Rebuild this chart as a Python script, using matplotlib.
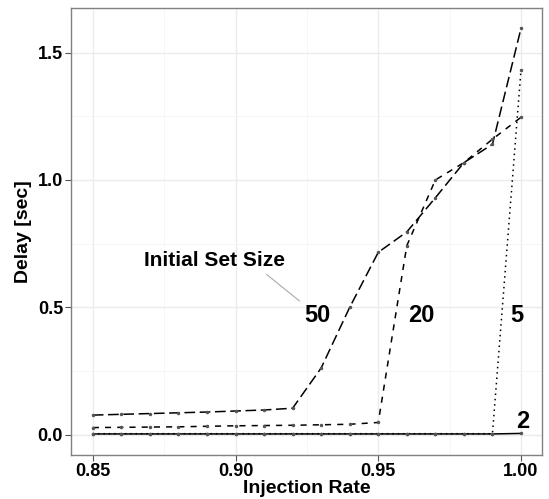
import matplotlib
matplotlib.use("Agg")
import matplotlib.pyplot as plt
from matplotlib.ticker import MultipleLocator

plt.rcParams['font.family'] = ['Liberation Sans', 'DejaVu Sans']
plt.rcParams['font.weight'] = 'bold'
plt.rcParams['axes.labelweight'] = 'bold'

# injection rate 0.85 .. 1.00
rate = [0.85, 0.86, 0.87, 0.88, 0.89, 0.90, 0.91, 0.92,
        0.93, 0.94, 0.95, 0.96, 0.97, 0.98, 0.99, 1.00]

# delay [sec] per initial set size
delay_50 = [0.077, 0.080, 0.083, 0.086, 0.089, 0.093, 0.097, 0.104,
            0.262, 0.500, 0.716, 0.796, 0.930, 1.068, 1.140, 1.595]
delay_20 = [0.028, 0.029, 0.030, 0.031, 0.033, 0.035, 0.036, 0.037,
            0.039, 0.041, 0.048, 0.742, 1.000, 1.068, 1.160, 1.246]
delay_5 = [0.004, 0.004, 0.004, 0.004, 0.004, 0.004, 0.004, 0.004,
           0.004, 0.004, 0.004, 0.004, 0.004, 0.004, 0.004, 1.432]
delay_2 = [0.003, 0.003, 0.003, 0.003, 0.003, 0.003, 0.003, 0.003,
           0.003, 0.003, 0.003, 0.003, 0.003, 0.003, 0.003, 0.005]

fig = plt.figure(figsize=(5.49, 4.99), dpi=100)
ax = fig.add_axes([0.130, 0.088, 0.858, 0.896])

lw = 1.1
ax.plot(rate, delay_50, color='black', lw=lw, dashes=(7, 3))
ax.plot(rate, delay_20, color='black', lw=lw, dashes=(4, 4))
ax.plot(rate, delay_5, color='black', lw=lw, dashes=(1, 2.5))
ax.plot(rate, delay_2, color='black', lw=lw)
for s in (delay_50, delay_20, delay_5, delay_2):
    ax.plot(rate, s, ls='none', marker='o', ms=1.5, color='#555555')

# line labels
ax.text(0.9286, 0.469, '50', fontsize=17, ha='center', va='center')
ax.text(0.9650, 0.469, '20', fontsize=17, ha='center', va='center')
ax.text(0.9985, 0.469, '5', fontsize=17, ha='center', va='center')
ax.text(1.0005, 0.052, '2', fontsize=17, ha='center', va='center')

ax.text(0.8927, 0.684, 'Initial Set Size', fontsize=15, ha='center', va='center')
ax.plot([0.9109, 0.9224], [0.629, 0.525], color='#aaaaaa', lw=0.8)

ax.set_xlim(0.8425, 1.0075)
ax.set_ylim(-0.080, 1.675)
ax.set_xticks([0.85, 0.90, 0.95, 1.00])
ax.set_xticklabels(['0.85', '0.90', '0.95', '1.00'])
ax.set_yticks([0.0, 0.5, 1.0, 1.5])
ax.set_yticklabels(['0.0', '0.5', '1.0', '1.5'])
ax.xaxis.set_minor_locator(MultipleLocator(0.025))
ax.yaxis.set_minor_locator(MultipleLocator(0.25))

ax.grid(True, which='major', color='#ebebeb', lw=1.0)
ax.grid(True, which='minor', color='#f5f5f5', lw=0.6)
ax.set_axisbelow(True)
ax.tick_params(which='major', length=4, width=0.8, color='#555555',
               labelsize=13, pad=2, labelcolor='black')
ax.tick_params(which='minor', length=0)
for sp in ax.spines.values():
    sp.set_color('#808080')
    sp.set_linewidth(1.0)

ax.set_xlabel('Injection Rate', fontsize=14, labelpad=0)
ax.set_ylabel('Delay [sec]', fontsize=14, labelpad=4)

fig.savefig('out.png', dpi=100)
